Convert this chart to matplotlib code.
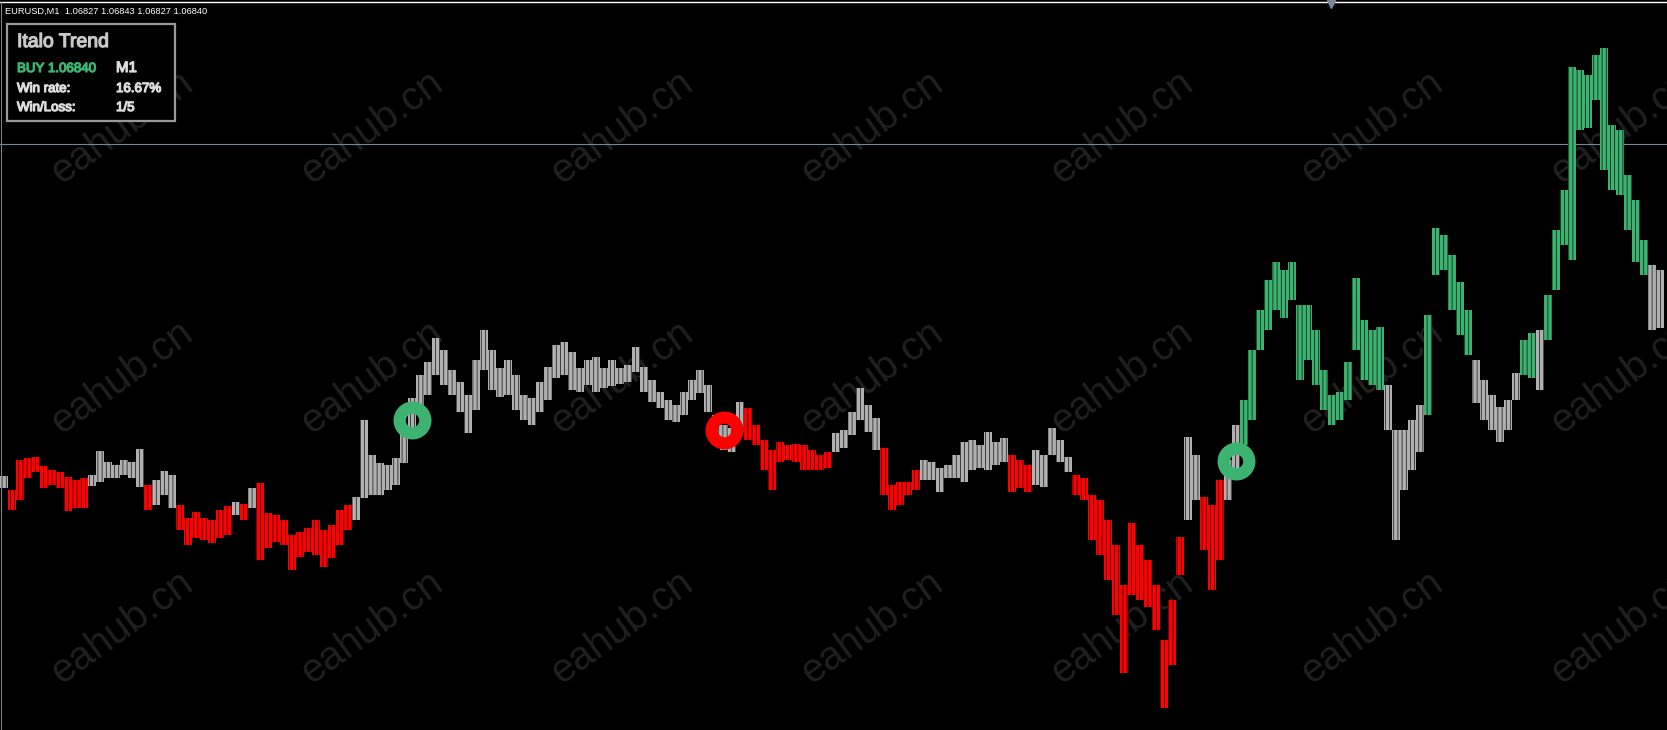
import numpy as np
import matplotlib
matplotlib.use("Agg")
import matplotlib.pyplot as plt
import matplotlib.patheffects as pe
from matplotlib.patches import Rectangle
from matplotlib.lines import Line2D

# EURUSD M1 bars, prices in points above 1.06000 (one bar = one slot on the x axis)
high_pts = [688, 674, 704, 706, 707, 698, 694, 692, 687, 684, 686, 689, 713, 702, 699, 704,
            702, 715, 679, 684, 693, 689, 659, 646, 652, 646, 644, 654, 658, 662, 660, 676,
            681, 651, 649, 644, 629, 632, 636, 644, 634, 639, 654, 659, 667, 744, 709, 701,
            699, 706, 734, 766, 789, 802, 826, 814, 794, 782, 769, 804, 834, 814, 796, 804,
            789, 769, 766, 782, 797, 819, 822, 812, 796, 804, 807, 796, 804, 796, 799, 817,
            797, 784, 772, 764, 759, 772, 784, 794, 779, 749, 739, 736, 762, 756, 739, 724,
            714, 722, 719, 720, 719, 714, 709, 712, 731, 734, 752, 776, 759, 746, 716, 679,
            682, 682, 694, 704, 702, 696, 699, 709, 722, 724, 719, 732, 722, 726, 709, 704,
            699, 714, 709, 736, 724, 707, 689, 686, 669, 664, 644, 619, 579, 641, 619, 604,
            579, 524, 564, 627, 727, 709, 667, 659, 684, 704, 739, 764, 814, 854, 884, 902,
            894, 902, 859, 859, 834, 794, 769, 772, 802, 886, 844, 834, 837, 779, 734, 734,
            744, 759, 849, 936, 929, 909, 882, 854, 804, 784, 769, 757, 764, 791, 824, 831,
            834, 869, 934, 974, 1097, 1094, 1089, 1109, 1116, 1039, 1034, 989, 964, 924, 899, 894]
low_pts = [676, 654, 664, 686, 692, 676, 679, 676, 653, 656, 656, 678, 682, 686, 686, 689,
           686, 677, 654, 659, 669, 656, 634, 619, 626, 624, 621, 626, 629, 649, 644, 656,
           604, 616, 622, 619, 594, 607, 612, 609, 597, 606, 619, 634, 644, 666, 669, 669,
           674, 679, 701, 732, 754, 769, 789, 779, 769, 752, 731, 754, 794, 774, 767, 769,
           754, 744, 739, 752, 764, 786, 789, 774, 772, 779, 772, 776, 778, 780, 782, 792,
           772, 762, 756, 744, 742, 749, 764, 771, 752, 719, 714, 712, 732, 724, 719, 694,
           674, 702, 704, 702, 694, 694, 694, 696, 712, 716, 729, 744, 732, 714, 669, 654,
           659, 669, 674, 684, 684, 672, 686, 686, 682, 694, 696, 694, 699, 702, 672, 676,
           672, 679, 677, 709, 702, 692, 669, 664, 624, 609, 584, 549, 491, 569, 564, 557,
           534, 456, 499, 589, 644, 664, 614, 574, 604, 664, 694, 719, 744, 814, 834, 854,
           846, 864, 784, 804, 779, 754, 739, 744, 764, 814, 784, 779, 774, 734, 624, 674,
           694, 712, 749, 889, 894, 854, 829, 809, 761, 744, 734, 722, 734, 764, 789, 786,
           774, 824, 874, 919, 904, 1034, 1036, 1064, 994, 974, 969, 934, 902, 889, 834, 836]

# indicator state per bar: r = down trend, g = neutral, G = up trend
trend_runs = [("g", 1), ("r", 10), ("g", 7), ("r", 1), ("g", 3), ("r", 7), ("g", 1), ("r", 1),
              ("g", 1), ("r", 12), ("g", 49), ("r", 11), ("g", 6), ("r", 5), ("g", 11), ("r", 3),
              ("g", 5), ("r", 14), ("g", 2), ("r", 3), ("g", 2), ("G", 18), ("g", 5), ("G", 6),
              ("g", 6), ("G", 2), ("g", 1), ("G", 13), ("g", 2)]

# signal arrows (bar index, price points, type)
signal_bar = [51, 90, 154]
signal_pts = [744, 734, 703]
signal_type = ["buy", "sell", "buy"]

level_price = 1.07020
header = "EURUSD,M1  1.06827 1.06843 1.06827 1.06840"
panel_title = "Italo Trend"
panel_rows = [("BUY 1.06840", "M1"), ("Win rate:", "16.67%"), ("Win/Loss:", "1/5")]
watermark = "eahub.cn"

W, H = 1667, 730
RED = "#FF0000"
GRAY = "#B0B0B0"
GREEN = "#3CB371"
colmap = {"r": RED, "g": GRAY, "G": GREEN}
PANEL_FONT = ["Liberation Sans", "DejaVu Sans"]

plt.rcParams["hatch.linewidth"] = 0.45


def fx(px):
    return px / W


def fy(py):
    return 1 - py / H


def bold_text(px, py, s, color, size):
    # thicken the regular face with a stroke of the same colour
    fig.text(fx(px), fy(py), s, color=color, fontsize=size, family=PANEL_FONT,
             va="baseline", zorder=6,
             path_effects=[pe.withStroke(linewidth=0.9, foreground=color)])


high = 1.06 + np.array(high_pts) / 1e5
low = 1.06 + np.array(low_pts) / 1e5
states = "".join(s * n for s, n in trend_runs)
colors = [colmap[s] for s in states]
x = np.arange(len(high))

fig = plt.figure(figsize=(W / 100, H / 100), dpi=100, facecolor="black")
ax = fig.add_axes([0, 0, 1, 1])
ax.set_facecolor("black")
ax.set_xlim(-0.5, (W - 4) / 8)
ax.set_ylim(1.06434, 1.07164)
ax.axis("off")

# watermark grid, kept under the bars
for cy in [127, 377, 627]:
    for cx in [122, 372, 622, 872, 1122, 1372, 1622]:
        ax.text(fx(cx), fy(cy), watermark, color="#202020", fontsize=29,
                family="Liberation Sans", rotation=36, rotation_mode="anchor",
                ha="center", va="center", transform=fig.transFigure, zorder=0.5,
                clip_on=False)

ax.axhline(level_price, color="#778899", lw=0.8, zorder=1)

# bars with thin black stripes so they read as a dense run of 1px bars
ax.bar(x, high - low, bottom=low, width=1.0, color=colors, edgecolor="black",
       linewidth=0, hatch="|" * 4, zorder=2)

for b, p, t in zip(signal_bar, signal_pts, signal_type):
    c = GREEN if t == "buy" else RED
    ax.plot(b, 1.06 + p / 1e5, marker="o", ms=18.5, mew=8.8, mfc="none", mec=c, zorder=3)

# frame lines
fig.add_artist(Line2D([0, 1], [fy(2), fy(2)], color="white", lw=1.0))
fig.add_artist(Line2D([fx(0.7), fx(0.7)], [fy(2), 0], color="#8a8a8a", lw=0.7))
fig.add_artist(Line2D([fx(1331)], [fy(4)], marker="v", ms=6, color="#778899", lw=0))

fig.text(fx(5), fy(14), header, color="white", fontsize=6.7, family="Liberation Sans",
         va="baseline")

# info panel
fig.add_artist(Rectangle((fx(7), fy(121)), 168 / W, 97 / H, transform=fig.transFigure,
                         facecolor="black", edgecolor="#9a9a9a", lw=1.6, zorder=5))
bold_text(17, 47, panel_title, "#C8C8C8", 14.0)
for k, (left, right) in enumerate(panel_rows):
    base = [72, 92, 111][k]
    bold_text(17, base, left, GREEN if k == 0 else "#DCDCDC", 9.6)
    bold_text(116, base, right, "#DCDCDC", 9.6 if k else 10.8)

fig.savefig("out.png", dpi=100, facecolor="black")
